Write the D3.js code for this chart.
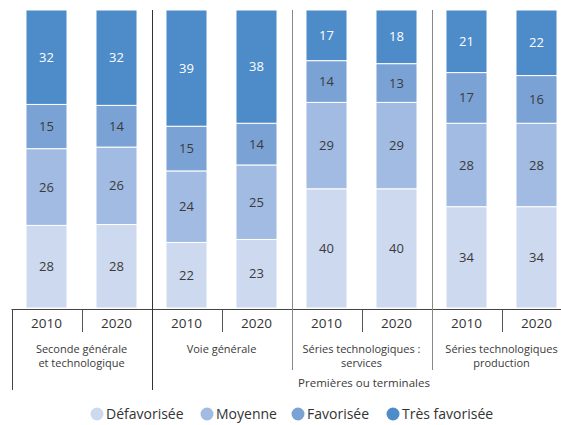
<!DOCTYPE html>
<html>
<head>
<meta charset="utf-8">
<script src="https://cdn.jsdelivr.net/npm/d3@7"></script>
<style>
  body { margin: 0; background: #fff; }
  svg { font-family: "Open Sans", "Noto Sans", sans-serif; }
</style>
</head>
<body>
<svg id="chart" width="561" height="425"></svg>
<script>
var width = 561
var height = 425

// groupes et années
var groups = ["Seconde générale\net technologique", "Voie générale", "Séries technologiques :\nservices", "Séries technologiques\nproduction"]
var years = ["2010", "2020"]
var seriesNames = ["Défavorisée", "Moyenne", "Favorisée", "Très favorisée"]
var colors = ["#cdd9ef", "#a1bbe2", "#7ba2d5", "#4d8bc9"]

// valeurs par série (ordre : groupe x année)
var defavorisee = [28, 28, 22, 23, 40, 40, 34, 34]
var moyenne = [26, 26, 24, 25, 29, 29, 28, 28]
var favorisee = [15, 14, 15, 14, 14, 13, 17, 16]
var tresFavorisee = [32, 32, 39, 38, 17, 18, 21, 22]
var superLabel = "Premières ou terminales"

var keys = []
groups.forEach(function (g, gi) {
    years.forEach(function (y) { keys.push(gi + "-" + y) })
})

var table = keys.map(function (k, i) {
    return {
        key: k,
        "Défavorisée": defavorisee[i],
        "Moyenne": moyenne[i],
        "Favorisée": favorisee[i],
        "Très favorisée": tresFavorisee[i]
    }
})

var stacked = d3.stack().keys(seriesNames).offset(d3.stackOffsetExpand)(table)

var xScale = d3.scaleBand()
    .domain(keys)
    .range([11.5, 571.5])
    .paddingInner(0.414)
    .paddingOuter(0.207)

var yScale = d3.scaleLinear()
    .domain([0, 1])
    .range([308, 10])

var zScale = d3.scaleOrdinal().domain(seriesNames).range(colors)

var svg = d3.select("#chart")
var step = xScale.step()
var axisY = 309.5

// barres
var layer = svg.append("g").selectAll("g")
    .data(stacked)
    .enter().append("g")
    .attr("fill", function (d) { return zScale(d.key) })

layer.selectAll("rect")
    .data(function (d) { return d })
    .enter().append("rect")
    .attr("x", function (d) { return xScale(d.data.key) })
    .attr("width", xScale.bandwidth())
    .attr("y", function (d) { return yScale(d[1]) })
    .attr("height", function (d) { return yScale(d[0]) - yScale(d[1]) })
    .attr("stroke", "#fff")
    .attr("stroke-width", 1)

// étiquettes de valeurs
layer.selectAll("text")
    .data(function (d) { return d.map(function (p, i) { return { p: p, s: d.key, i: i } }) })
    .enter().append("text")
    .attr("x", function (d) { return xScale(d.p.data.key) + xScale.bandwidth() / 2 })
    .attr("y", function (d) { return (yScale(d.p[0]) + yScale(d.p[1])) / 2 })
    .attr("dy", "0.35em")
    .attr("text-anchor", "middle")
    .attr("font-size", 13)
    .attr("fill", function (d) { return d.s == "Très favorisée" ? "#fff" : "#3a3a3a" })
    .text(function (d) { return d.p.data[d.s] })

// axe
var x0 = xScale.range()[0]
svg.append("line")
    .attr("x1", x0).attr("x2", width)
    .attr("y1", axisY).attr("y2", axisY)
    .attr("stroke", "#444")

// séparateurs de groupes
groups.forEach(function (g, gi) {
    var gx = x0 + gi * 2 * step
    var top, bottom, col
    if (gi == 0) { top = axisY; bottom = 390; col = "#444" }
    else if (gi == 1) { top = 10; bottom = 390; col = "#333" }
    else { top = 10; bottom = 370; col = "#888" }
    svg.append("line")
        .attr("x1", Math.round(gx) + 0.5).attr("x2", Math.round(gx) + 0.5)
        .attr("y1", top).attr("y2", bottom)
        .attr("stroke", col)

    // tick entre années
    var tx = x0 + (gi * 2 + 1) * step
    svg.append("line")
        .attr("x1", Math.round(tx) + 0.5).attr("x2", Math.round(tx) + 0.5)
        .attr("y1", axisY).attr("y2", 332)
        .attr("stroke", "#555")

    // libellés de groupe
    var lines = g.split("\n")
    var t = svg.append("text")
        .attr("text-anchor", "middle")
        .attr("font-size", 11)
        .attr("fill", "#3a3a3a")
    lines.forEach(function (l, li) {
        t.append("tspan")
            .attr("x", tx)
            .attr("y", 353 + li * 14)
            .text(l)
    })
})

// années
svg.append("g").selectAll("text")
    .data(keys)
    .enter().append("text")
    .attr("x", function (d) { return xScale(d) + xScale.bandwidth() / 2 })
    .attr("y", 328)
    .attr("text-anchor", "middle")
    .attr("font-size", 13.5)
    .attr("fill", "#333")
    .text(function (d) { return d.split("-")[1] })

// niveau supérieur
svg.append("text")
    .attr("x", 364)
    .attr("y", 387)
    .attr("text-anchor", "middle")
    .attr("font-size", 11.5)
    .attr("fill", "#3a3a3a")
    .text(superLabel)

// légende
var legendX = [97, 207, 298, 393]
var legend = svg.append("g").selectAll("g")
    .data(seriesNames)
    .enter().append("g")
    .attr("transform", function (d, i) { return "translate(" + legendX[i] + ",414)" })
legend.append("circle")
    .attr("r", 6.5)
    .attr("fill", function (d) { return zScale(d) })
legend.append("text")
    .attr("x", 9)
    .attr("dy", "0.35em")
    .attr("font-size", 14)
    .attr("fill", "#333")
    .text(function (d) { return d })
</script>
</body>
</html>
